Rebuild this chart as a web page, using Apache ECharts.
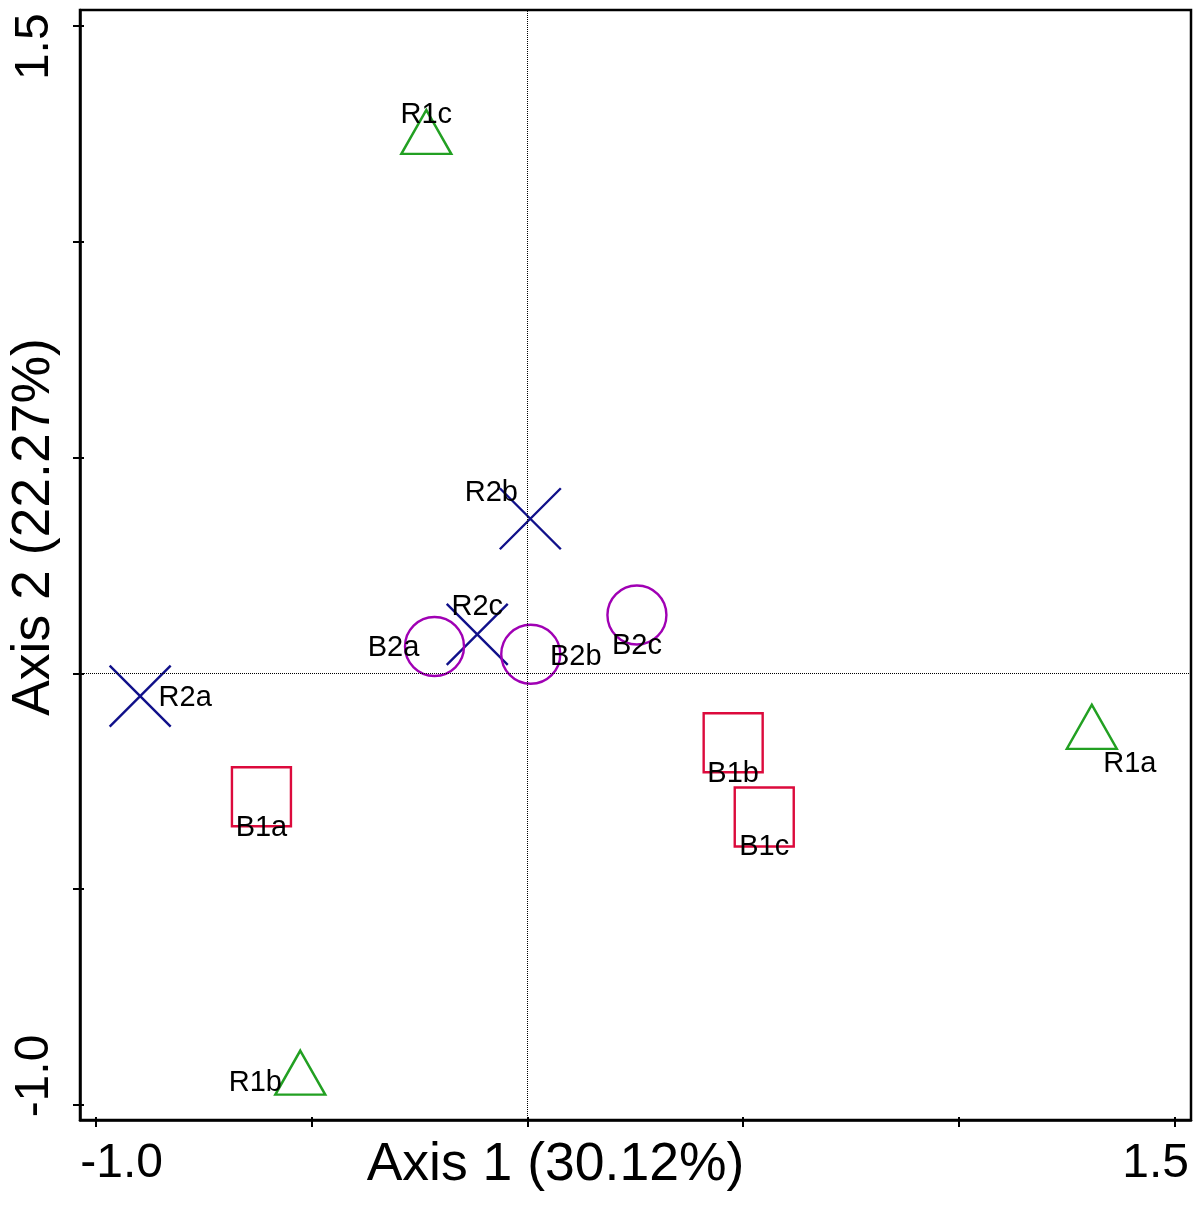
<!DOCTYPE html>
<html>
<head>
<meta charset="utf-8">
<script src="https://cdn.jsdelivr.net/npm/echarts@6/dist/echarts.min.js"></script>
<style>
html, body { margin: 0; padding: 0; background: #fff; }
#chart { width: 1200px; height: 1226px; }
</style>
</head>
<body>
<div id="chart"></div>
<script>
// Sample scores on the first two ordination axes
const r1Names = ['R1a', 'R1b', 'R1c'];
const r1Axis1 = [1.308, -0.526, -0.234];
const r1Axis2 = [-0.124, -0.925, 1.254];

const r2Names = ['R2a', 'R2b', 'R2c'];
const r2Axis1 = [-0.897, 0.007, -0.116];
const r2Axis2 = [-0.053, 0.358, 0.090];

const b1Names = ['B1a', 'B1b', 'B1c'];
const b1Axis1 = [-0.616, 0.477, 0.549];
const b1Axis2 = [-0.286, -0.161, -0.333];

const b2Names = ['B2a', 'B2b', 'B2c'];
const b2Axis1 = [-0.215, 0.008, 0.254];
const b2Axis2 = [0.062, 0.044, 0.135];

// Axis ticks and the two labelled ends
const tickValues = [-1.0, -0.5, 0, 0.5, 1.0, 1.5];
const labelValues = [-1.0, 1.5];
const axis1Title = 'Axis 1 (30.12%)';
const axis2Title = 'Axis 2 (22.27%)';

// Where each sample name sits relative to its marker
const labelOffset = {
  R1a: [38, 37], R1b: [-45, 10], R1c: [0, -17],
  R2a: [45, 2], R2b: [-39, -26], R2c: [0, -27],
  B1a: [0, 31], B1b: [0, 31], B1c: [0, 30],
  B2a: [-41, 1], B2b: [45, 3], B2c: [0, 31]
};

const FONT = '"Liberation Sans", Arial, Helvetica, sans-serif';
const X_RANGE = [-1.0364, 1.5378];
const Y_RANGE = [-1.0347, 1.5364];
const CROSS = 'path://M0,0L10,10M0,10L10,0';

function group(names, a1, a2, symbol, size, color) {
  return {
    type: 'scatter',
    silent: true,
    symbol: symbol,
    symbolSize: size,
    itemStyle: { color: 'rgba(0,0,0,0)', borderColor: color, borderWidth: 2.4, opacity: 1 },
    label: {
      show: true,
      position: 'inside',
      formatter: '{b}',
      color: '#000',
      fontSize: 29,
      fontFamily: FONT,
      textBorderWidth: 0
    },
    z: 3,
    data: names.map((n, i) => ({
      name: n,
      value: [a1[i], a2[i]],
      label: { offset: labelOffset[n] }
    }))
  };
}

const series = [
  group(r1Names, r1Axis1, r1Axis2, 'triangle', [50, 44], '#22a022'),
  group(r2Names, r2Axis1, r2Axis2, CROSS, 61, '#10108a'),
  group(b1Names, b1Axis1, b1Axis2, 'rect', 59, '#dc0a3c'),
  group(b2Names, b2Axis1, b2Axis2, 'circle', 59, '#a000b4')
];

// Dotted reference lines through the origin
series[0].markLine = {
  silent: true,
  animation: false,
  symbol: ['none', 'none'],
  label: { show: false },
  lineStyle: { color: '#000', width: 1, type: 'dotted' },
  emphasis: { disabled: true },
  data: [{ xAxis: 0 }, { yAxis: 0 }]
};

const fmt = v => v.toFixed(1);

const option = {
  animation: false,
  backgroundColor: '#fff',
  grid: {
    left: 80, top: 10, width: 1111, height: 1110,
    show: true, borderColor: '#000', borderWidth: 2.5,
    containLabel: false, outerBoundsMode: 'none'
  },
  xAxis: [{
    type: 'value',
    min: X_RANGE[0], max: X_RANGE[1],
    position: 'bottom',
    name: axis1Title,
    nameLocation: 'middle',
    nameGap: 18,
    nameMoveOverlap: false,
    nameTextStyle: { fontSize: 53.5, color: '#000', fontFamily: FONT, padding: [0, 160, 0, 0] },
    axisLine: { show: true, onZero: false, lineStyle: { color: '#000', width: 2.5 } },
    axisTick: { show: true, length: 7, customValues: tickValues, lineStyle: { color: '#000', width: 2 } },
    axisLabel: {
      show: true,
      customValues: labelValues,
      margin: 20,
      formatter: v => (v < 0 ? '{lo|' + fmt(v) + '}' : '{hi|' + fmt(v) + '}'),
      rich: {
        lo: { fontSize: 48, color: '#000', fontFamily: FONT, padding: [0, 0, 0, 52] },
        hi: { fontSize: 48, color: '#000', fontFamily: FONT, padding: [0, 38, 0, 0] }
      }
    },
    splitLine: { show: false }
  }, {
    type: 'value',
    min: X_RANGE[0], max: X_RANGE[1],
    position: 'bottom',
    axisLine: { show: false, onZero: false },
    axisTick: { show: true, inside: true, length: 3, customValues: tickValues, lineStyle: { color: '#000', width: 2 } },
    axisLabel: { show: false },
    splitLine: { show: false }
  }],
  yAxis: [{
    type: 'value',
    min: Y_RANGE[0], max: Y_RANGE[1],
    position: 'left',
    name: axis2Title,
    nameLocation: 'middle',
    nameGap: 19,
    nameRotate: 90,
    nameMoveOverlap: false,
    nameTextStyle: { fontSize: 53.5, color: '#000', fontFamily: FONT, padding: [0, 0, 0, 76] },
    axisLine: { show: true, onZero: false, lineStyle: { color: '#000', width: 2.5 } },
    axisTick: { show: true, length: 7, customValues: tickValues, lineStyle: { color: '#000', width: 2 } },
    axisLabel: {
      show: true,
      rotate: 90,
      customValues: labelValues,
      margin: 21,
      formatter: v => (v < 0 ? '{lo|' + fmt(v) + '}' : '{hi|' + fmt(v) + '}'),
      rich: {
        lo: { fontSize: 48, color: '#000', fontFamily: FONT, padding: [0, 0, 0, 58] },
        hi: { fontSize: 48, color: '#000', fontFamily: FONT, padding: [0, 42, 0, 0] }
      }
    },
    splitLine: { show: false }
  }, {
    type: 'value',
    min: Y_RANGE[0], max: Y_RANGE[1],
    position: 'left',
    axisLine: { show: false, onZero: false },
    axisTick: { show: true, inside: true, length: 4, customValues: tickValues, lineStyle: { color: '#000', width: 2 } },
    axisLabel: { show: false },
    splitLine: { show: false }
  }],
  series: series
};

const chart = echarts.init(document.getElementById('chart'), null, { renderer: 'canvas' });
chart.setOption(option);
</script>
</body>
</html>
